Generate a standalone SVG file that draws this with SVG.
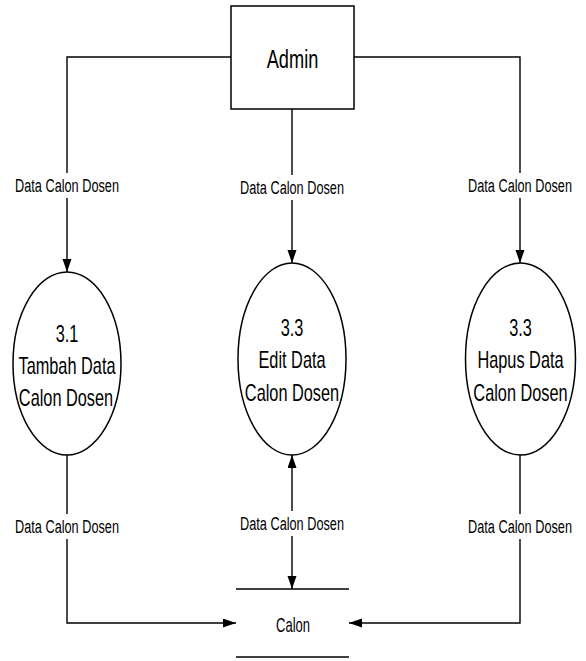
<svg xmlns="http://www.w3.org/2000/svg" width="586" height="661" viewBox="0 0 586 661">
<style>
.shape{fill:#fff;stroke:#000;stroke-width:1.5}
.line{fill:none;stroke:#000;stroke-width:1.4}
.t{font-family:"Liberation Sans",Arial,sans-serif;fill:#000;text-anchor:middle}
.lbl{font-size:18px}
.node{font-size:24px}
.bg{fill:#fff;stroke:none}
</style>
<defs>
<marker id="arr" markerUnits="userSpaceOnUse" markerWidth="14" markerHeight="10" refX="13" refY="4.5" orient="auto">
<path d="M0,0 L13,4.5 L0,9 Z" fill="#000"/>
</marker>
<marker id="arrs" markerUnits="userSpaceOnUse" markerWidth="14" markerHeight="10" refX="13" refY="4.5" orient="auto-start-reverse">
<path d="M0,0 L13,4.5 L0,9 Z" fill="#000"/>
</marker>
</defs>
<g id="connectors">
<path class="line" d="M231,57 H67 V272" marker-end="url(#arr)"/>
<path class="line" d="M292,109 V263" marker-end="url(#arr)"/>
<path class="line" d="M354,57 H520 V263" marker-end="url(#arr)"/>
<path class="line" d="M67,455 V623 H236" marker-end="url(#arr)"/>
<path class="line" d="M520,455 V623 H349" marker-end="url(#arr)"/>
<path class="line" d="M292,455 V589" marker-start="url(#arrs)" marker-end="url(#arrs)"/>
<rect class="bg" x="14" y="173" width="106" height="25"/>
<text class="t lbl" transform="translate(67,192) scale(0.707,1)">Data Calon Dosen</text>
<rect class="bg" x="239" y="175" width="106" height="25"/>
<text class="t lbl" transform="translate(292,194) scale(0.707,1)">Data Calon Dosen</text>
<rect class="bg" x="467" y="173" width="106" height="25"/>
<text class="t lbl" transform="translate(520,192) scale(0.707,1)">Data Calon Dosen</text>
<rect class="bg" x="14" y="514" width="106" height="25"/>
<text class="t lbl" transform="translate(67,533) scale(0.707,1)">Data Calon Dosen</text>
<rect class="bg" x="239" y="511" width="106" height="25"/>
<text class="t lbl" transform="translate(292,530) scale(0.707,1)">Data Calon Dosen</text>
<rect class="bg" x="467" y="514" width="106" height="25"/>
<text class="t lbl" transform="translate(520,533) scale(0.707,1)">Data Calon Dosen</text>
</g>
<g id="admin">
<rect class="shape" x="231" y="6" width="123" height="103"/>
<text class="t" style="font-size:26px" transform="translate(292.5,68) scale(0.7,1)">Admin</text>
</g>
<g id="p31">
<ellipse class="shape" cx="67" cy="363.5" rx="54" ry="91.5"/>
<text class="t node" transform="translate(67,342) scale(0.68,1)">3.1</text>
<text class="t node" transform="translate(67,374) scale(0.68,1)">Tambah Data</text>
<text class="t node" transform="translate(66,406) scale(0.68,1)">Calon Dosen</text>
</g>
<g id="p33edit">
<ellipse class="shape" cx="292" cy="359" rx="54" ry="96"/>
<text class="t node" transform="translate(292,336) scale(0.68,1)">3.3</text>
<text class="t node" transform="translate(292,368) scale(0.68,1)">Edit Data</text>
<text class="t node" transform="translate(292,401) scale(0.68,1)">Calon Dosen</text>
</g>
<g id="p33hapus">
<ellipse class="shape" cx="520.5" cy="359" rx="55" ry="96"/>
<text class="t node" transform="translate(520.5,336) scale(0.68,1)">3.3</text>
<text class="t node" transform="translate(520.5,368) scale(0.68,1)">Hapus Data</text>
<text class="t node" transform="translate(520.5,401) scale(0.68,1)">Calon Dosen</text>
</g>
<g id="calon">
<line class="line" x1="236" y1="589" x2="349" y2="589" style="stroke-width:1.6"/>
<line class="line" x1="236" y1="657" x2="349" y2="657" style="stroke-width:1.6"/>
<text class="t" style="font-size:20px" transform="translate(293,632) scale(0.65,1)">Calon</text>
</g>
</svg>
